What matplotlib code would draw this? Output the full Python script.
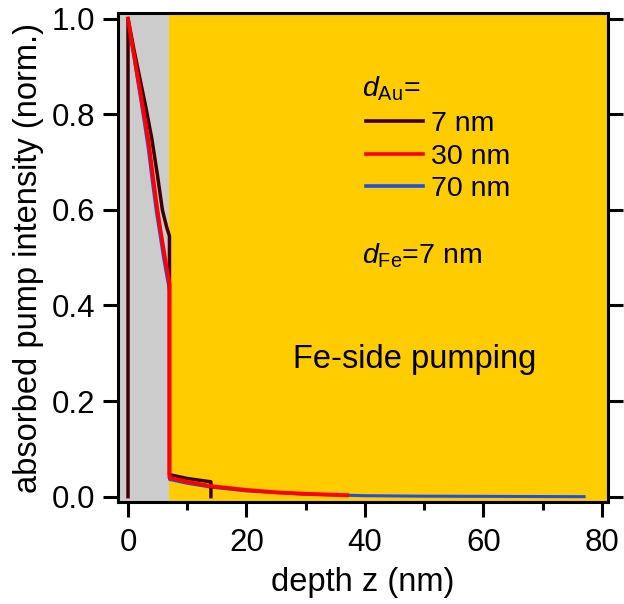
import numpy as np
import matplotlib
matplotlib.use('Agg')
import matplotlib.pyplot as plt
from matplotlib.ticker import MultipleLocator, FormatStrFormatter

plt.rcParams['font.family'] = ['Liberation Sans', 'DejaVu Sans']
plt.rcParams['mathtext.fontset'] = 'custom'
plt.rcParams['mathtext.rm'] = 'Liberation Sans'
plt.rcParams['mathtext.it'] = 'Liberation Sans:italic'

# absorbed pump profiles, d_Fe = 7 nm
z_au7 = [0, 0, 1, 2, 3, 4, 5, 5.8, 6.5, 7, 7, 10, 14, 14]
a_au7 = [0.0, 1.0, 0.935, 0.875, 0.815, 0.75, 0.67, 0.60, 0.565, 0.545,
         0.046, 0.038, 0.031, 0.0]

z_au30 = [0, 0.5, 1, 1.5, 2, 2.7, 3.5, 4.2, 4.9, 5.5, 6, 6.5, 7,
          7, 10, 14, 20, 25, 30, 37]
a_au30 = [1.0, 0.96, 0.925, 0.888, 0.852, 0.80, 0.74, 0.67, 0.605, 0.555,
          0.518, 0.48, 0.445,
          0.040, 0.031, 0.022, 0.014, 0.009, 0.006, 0.003]

z_au70 = [0, 0.5, 1, 1.5, 2, 2.6, 3.4, 4.1, 4.8, 5.5, 6, 6.5, 7,
          7, 10, 14, 20, 30, 40, 50, 77]
a_au70 = [1.0, 0.958, 0.92, 0.88, 0.842, 0.795, 0.73, 0.66, 0.595, 0.54,
          0.50, 0.465, 0.432,
          0.036, 0.028, 0.020, 0.012, 0.005, 0.002, 0.001, 0.0]

d_fe = 7

fig = plt.figure(figsize=(6.24, 6.04), dpi=100)
ax = fig.add_axes([0.189, 0.169, 0.785, 0.809])

ax.axvspan(-5, d_fe, color='#cccccc', lw=0, zorder=0)
ax.axvspan(d_fe, 100, color='#ffcc00', lw=0, zorder=0)

ax.plot(z_au70, a_au70, color='#1e50e6', lw=2.2, label='70 nm', zorder=2)
ax.plot(z_au7, a_au7, color='#3c0000', lw=2.5, label='7 nm', zorder=3)
ax.plot(z_au30, a_au30, color='#ff0000', lw=2.8, label='30 nm', zorder=4)

ax.set_xlim(-1.7, 81)
ax.set_ylim(-0.011, 1.011)

ax.xaxis.set_major_locator(MultipleLocator(20))
ax.xaxis.set_minor_locator(MultipleLocator(10))
ax.yaxis.set_major_locator(MultipleLocator(0.2))
ax.yaxis.set_major_formatter(FormatStrFormatter('%.1f'))
ax.tick_params(axis='both', which='major', direction='out', length=11,
               width=2.2, labelsize=22.5)
ax.tick_params(axis='x', which='major', pad=8)
ax.tick_params(axis='y', which='major', pad=5.5, right=True)
ax.tick_params(axis='x', which='minor', direction='out', length=6, width=2.2)
for s in ax.spines.values():
    s.set_linewidth(2.2)

ax.set_xlabel('depth z (nm)', fontsize=23.5, labelpad=6)
ax.set_ylabel('absorbed pump intensity (norm.)', fontsize=23.5, labelpad=5)

h, l = ax.get_legend_handles_labels()
order = [1, 2, 0]
leg = ax.legend([h[i] for i in order], [l[i] for i in order],
                loc='upper left', bbox_to_anchor=(0.506, 0.80),
                frameon=False, fontsize=20.5, handlelength=2.0,
                handletextpad=0.3, labelspacing=0.23, borderpad=0,
                borderaxespad=0)
for ln in leg.get_lines():
    ln.set_linewidth(2.6)

ax.text(39.5, 0.8375, r'$d_{\rm Au}$=', fontsize=20.5, ha='left',
        va='baseline')
ax.text(39.5, 0.4875, r'$d_{\rm Fe}$=7 nm', fontsize=20.5, ha='left',
        va='baseline')
ax.text(27.8, 0.269, 'Fe-side pumping', fontsize=23.5, ha='left',
        va='baseline')

fig.savefig('out.png', dpi=100)
